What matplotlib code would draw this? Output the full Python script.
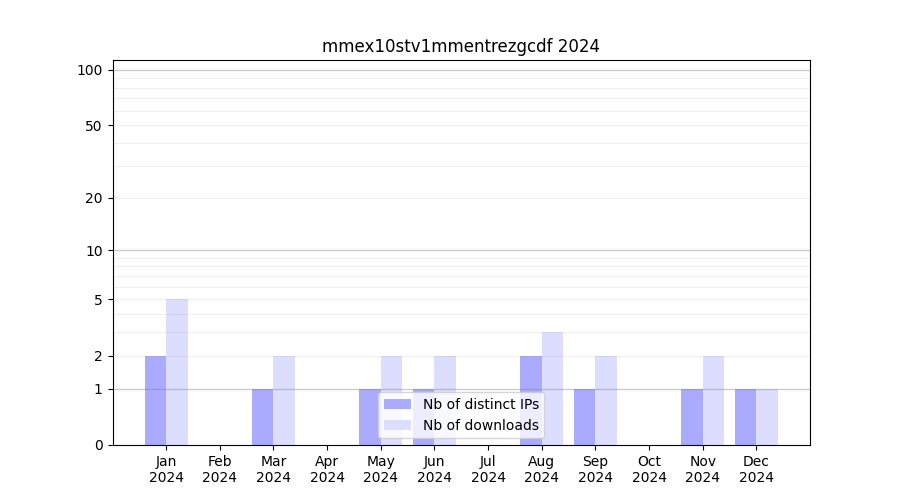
import numpy as np
import matplotlib; matplotlib.use("Agg")
import matplotlib.pyplot as plt

months = ["Jan", "Feb", "Mar", "Apr", "May", "Jun", "Jul", "Aug", "Sep", "Oct", "Nov", "Dec"]
year = "2024"
ips = [2, 0, 1, 0, 1, 1, 0, 2, 1, 0, 1, 1]
downloads = [5, 0, 2, 0, 2, 2, 0, 3, 2, 0, 2, 1]
yticks = [0, 1, 2, 5, 10, 20, 50, 100]
major_grid = [1, 10, 100]
minor_grid = [2, 3, 4, 5, 6, 7, 8, 9, 20, 30, 40, 50, 60, 70, 80, 90]

fig, ax = plt.subplots(figsize=(9, 5), dpi=100)
x = np.arange(len(months))
ax.bar(x - 0.2, ips, width=0.4, color="#aaaaff", label="Nb of distinct IPs", zorder=1)
ax.bar(x + 0.2, downloads, width=0.4, color="#ddddff", label="Nb of downloads", zorder=1)

ax.set_yscale("function", functions=(lambda v: np.log10(1 + v), lambda v: 10 ** v - 1))
ax.set_ylim(0, 113)
ax.set_xlim(-1, 12)
ax.set_yticks(yticks)
ax.set_yticklabels([str(t) for t in yticks])
ax.yaxis.set_minor_locator(matplotlib.ticker.NullLocator())
for v in major_grid:
    ax.axhline(v, color="#808080", alpha=0.4, lw=1, zorder=2)
for v in minor_grid:
    ax.axhline(v, color="#808080", alpha=0.12, lw=0.8, zorder=2)

ax.set_xticks(x)
ax.set_xticklabels([f"{m}\n{year}" for m in months])
ax.set_title("mmex10stv1mmentrezgcdf 2024")
ax.legend(loc="lower center")
fig.savefig("out.png", dpi=100)
